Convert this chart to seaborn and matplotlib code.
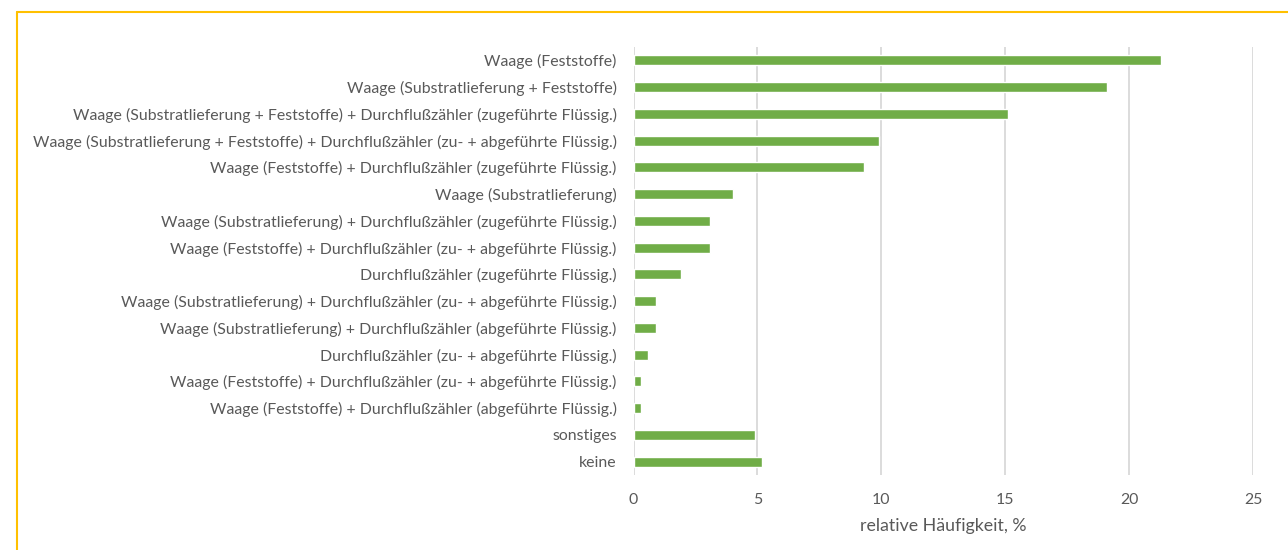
import matplotlib
matplotlib.use("Agg")
import matplotlib.pyplot as plt
import seaborn as sns
import pandas as pd
from matplotlib.lines import Line2D

categories = [
    "Waage (Feststoffe)",
    "Waage (Substratlieferung + Feststoffe)",
    "Waage (Substratlieferung + Feststoffe) + Durchflußzähler (zugeführte Flüssig.)",
    "Waage (Substratlieferung + Feststoffe) + Durchflußzähler (zu- + abgeführte Flüssig.)",
    "Waage (Feststoffe) + Durchflußzähler (zugeführte Flüssig.)",
    "Waage (Substratlieferung)",
    "Waage (Substratlieferung) + Durchflußzähler (zugeführte Flüssig.)",
    "Waage (Feststoffe) + Durchflußzähler (zu- + abgeführte Flüssig.)",
    "Durchflußzähler (zugeführte Flüssig.)",
    "Waage (Substratlieferung) + Durchflußzähler (zu- + abgeführte Flüssig.)",
    "Waage (Substratlieferung) + Durchflußzähler (abgeführte Flüssig.)",
    "Durchflußzähler (zu- + abgeführte Flüssig.)",
    "Waage (Feststoffe) + Durchflußzähler (zu- + abgeführte Flüssig.)",
    "Waage (Feststoffe) + Durchflußzähler (abgeführte Flüssig.)",
    "sonstiges",
    "keine",
]
values = [21.3, 19.1, 15.1, 9.9, 9.3, 4.0, 3.1, 3.1, 1.9, 0.9, 0.9, 0.6, 0.3, 0.3, 4.9, 5.2]
xticks = [0, 5, 10, 15, 20, 25]
xlabel = "relative Häufigkeit, %"

sns.set_theme(style="white")
plt.rcParams["font.family"] = ["Lato", "DejaVu Sans"]

text_color = "#595959"
# categories contain a repeated label, so bars are placed by row index
df = pd.DataFrame({"row": list(range(len(categories))), "val": values})

fig = plt.figure(figsize=(12.88, 5.5), dpi=100)
ax = fig.add_axes([633.5 / 1288, 1 - 475 / 550, (1253 - 633.5) / 1288, (475 - 47) / 550])
sns.barplot(data=df, x="val", y="row", orient="h", color="#70ad47", saturation=1,
            width=0.37, ax=ax, zorder=3, errorbar=None)
ax.set_yticks(range(len(categories)))
ax.set_yticklabels(categories)
ax.set_xlim(0, 25)
ax.set_ylim(15.5, -0.5)
ax.set_xticks(xticks)
ax.set_xticklabels([str(t) for t in xticks])
ax.xaxis.grid(True, color="#d9d9d9", linewidth=1.3, zorder=0)
ax.yaxis.grid(False)
for s in ax.spines.values():
    s.set_visible(False)
ax.tick_params(axis="y", length=0, pad=12, labelsize=11.4, labelcolor=text_color)
ax.tick_params(axis="x", length=0, pad=13, labelsize=11.4, labelcolor=text_color)
ax.set_ylabel("")
ax.set_xlabel(xlabel, fontsize=12.8, color=text_color, labelpad=8)

fig.add_artist(Line2D([17 / 1288, 1], [1 - 11.5 / 550, 1 - 11.5 / 550], color="#ffc000", linewidth=1.5, transform=fig.transFigure))
fig.add_artist(Line2D([17 / 1288, 17 / 1288], [0, 1 - 11.5 / 550], color="#ffc000", linewidth=1.5, transform=fig.transFigure))

fig.savefig("out.png", dpi=100)
